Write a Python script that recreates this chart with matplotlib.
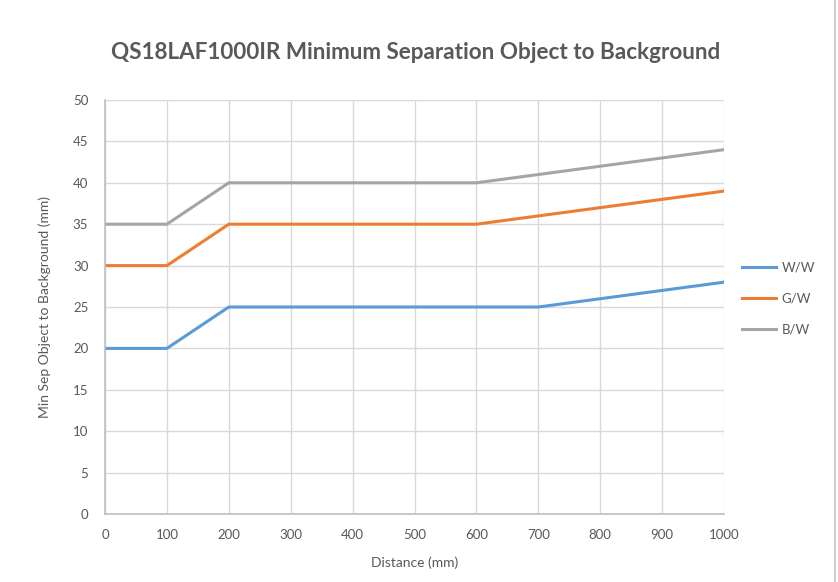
import matplotlib.pyplot as plt
from matplotlib.lines import Line2D

# Data
# -----------------------------------------------------------------------------
distance = [0, 100, 200, 300, 400, 500, 600, 700, 800, 900, 1000]
ww = [20, 20, 25, 25, 25, 25, 25, 25, 26, 27, 28]
gw = [30, 30, 35, 35, 35, 35, 35, 36, 37, 38, 39]
bw = [35, 35, 40, 40, 40, 40, 40, 41, 42, 43, 44]

# Plot
# -----------------------------------------------------------------------------
plt.rcParams['font.family'] = ['Lato', 'DejaVu Sans']
txt = '#595959'

fig = plt.figure(figsize=(8.38, 5.82), dpi=100)
ax = fig.add_axes([0.1253, 0.1168, 0.7387, 0.7114])

ax.plot(distance, ww, color='#5b9bd5', lw=2.2, label='W/W')
ax.plot(distance, gw, color='#ed7d31', lw=2.2, label='G/W')
ax.plot(distance, bw, color='#a5a5a5', lw=2.2, label='B/W')

ax.set_xlim(0, 1000)
ax.set_ylim(0, 50)
ax.set_xticks(range(0, 1001, 100))
ax.set_yticks(range(0, 51, 5))
ax.grid(color='#d9d9d9', lw=1)
ax.set_axisbelow(True)
for s in ['top', 'right']:
    ax.spines[s].set_visible(False)
for s in ['left', 'bottom']:
    ax.spines[s].set_color('#bfbfbf')
    ax.spines[s].set_linewidth(1.2)
ax.tick_params(length=0, labelsize=9.5, colors=txt, pad=11)
ax.tick_params(axis='y', pad=12)

ax.set_xlabel('Distance (mm)', fontsize=10, color=txt, labelpad=11)
ax.set_ylabel('Min Sep Object to Background (mm)', fontsize=10, color=txt,
              labelpad=16)
fig.text(0.496, 0.91, 'QS18LAF1000IR Minimum Separation Object to Background',
         ha='center', va='center', fontsize=16.2, fontweight='bold', color=txt)

ax.legend(loc='center left', bbox_to_anchor=(1.01, 0.52), frameon=False,
          fontsize=9.5, labelcolor=txt, handlelength=2.6, handletextpad=0.4,
          labelspacing=1.45)

fig.add_artist(Line2D([0.9965, 0.9965], [0, 1], transform=fig.transFigure,
                      color='#d0d0d0', lw=1.5))

fig.savefig('out.png', dpi=100)
